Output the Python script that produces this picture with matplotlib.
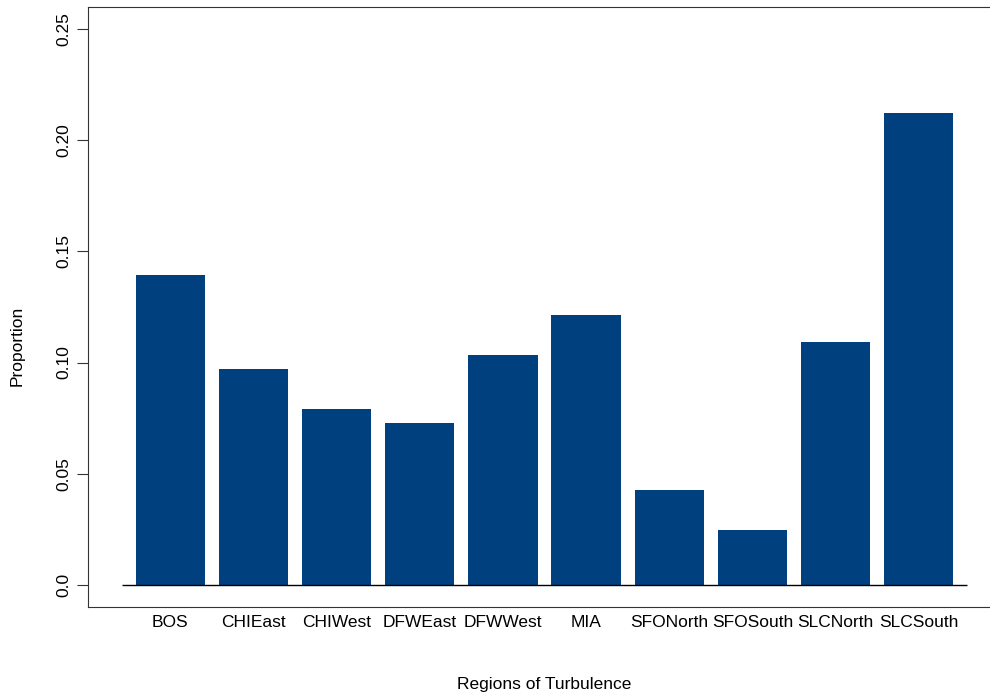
import matplotlib
matplotlib.use("Agg")
import matplotlib.pyplot as plt
import numpy as np

regions = ["BOS", "CHIEast", "CHIWest", "DFWEast", "DFWWest", "MIA",
           "SFONorth", "SFOSouth", "SLCNorth", "SLCSouth"]
proportions = [0.1396, 0.0972, 0.0789, 0.0729, 0.1032, 0.1215,
               0.0427, 0.0245, 0.1093, 0.2122]
y_ticks = [0.0, 0.05, 0.10, 0.15, 0.20, 0.25]
y_tick_labels = ["0.0", "0.05", "0.10", "0.15", "0.20", "0.25"]

plt.rcParams['font.family'] = ['Liberation Sans', 'DejaVu Sans']
FS = 12.5

W, H = 990, 698
fig = plt.figure(figsize=(W / 100, H / 100), dpi=100)
# axes box in pixel terms (right edge extends past the figure, as in the reference)
left_px, right_px, top_px, bottom_px = 88, 1001, 7, 607
ax = fig.add_axes([left_px / W, (H - bottom_px) / H,
                   (right_px - left_px) / W, (bottom_px - top_px) / H])

bar_w, space = 1.0, 0.2
n = len(regions)
lefts = space + np.arange(n) * (bar_w + space)
centers = lefts + bar_w / 2
ax.bar(centers, proportions, width=bar_w, color="#00407F", edgecolor="none")
ax.hlines(0, 0, n * (bar_w + space) + space, color="black", linewidth=1.0)

xmax = n * (bar_w + space) + space
pad_x = 0.04 * xmax
ax.set_xlim(-pad_x, xmax + pad_x)
ax.set_ylim(-0.01, 0.26)

ax.set_yticks(y_ticks)
ax.set_yticklabels(y_tick_labels, rotation=90, va="center", fontsize=FS)
ax.set_xticks(centers)
ax.set_xticklabels(regions, fontsize=FS)

ax.tick_params(axis="y", length=7.9, width=0.8, color="#333333", pad=4.0)
ax.tick_params(axis="x", length=0, pad=6.0)
for s in ax.spines.values():
    s.set_color("#333333")
    s.set_linewidth(0.8)

fig.text(544.5 / W, 1 - 684.5 / H, "Regions of Turbulence", ha="center",
         va="center", fontsize=FS)
fig.text(17.5 / W, 1 - 346 / H, "Proportion", ha="center", va="center",
         rotation=90, fontsize=FS)

fig.savefig("out.png", dpi=100)
